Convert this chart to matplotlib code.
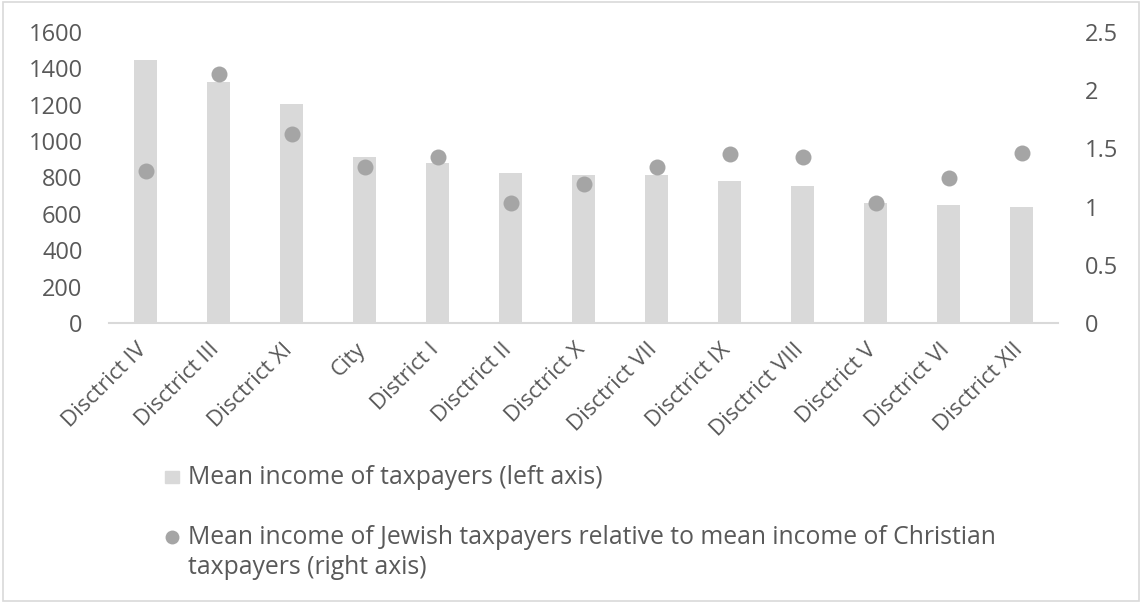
"""Mean taxpayer income by district with Jewish/Christian income ratio."""
import matplotlib
matplotlib.use("Agg")
import matplotlib.pyplot as plt
from matplotlib.lines import Line2D
from matplotlib.patches import Rectangle
from matplotlib.transforms import ScaledTranslation

districts = [
    "Disctrict IV", "Disctrict III", "Disctrict XI", "City", "District I",
    "Disctrict II", "Disctrict X", "Disctrict VII", "Disctrict IX",
    "Disctrict VIII", "Disctrict V", "Disctrict VI", "Disctrict XII",
]
mean_income = [1448, 1325, 1206, 914, 878, 826, 812, 812, 782, 753, 658, 650, 636]
jewish_ratio = [1.31, 2.14, 1.62, 1.34, 1.43, 1.03, 1.19, 1.34, 1.45, 1.43, 1.03, 1.25, 1.46]

left_ticks = [0, 200, 400, 600, 800, 1000, 1200, 1400, 1600]
right_ticks = [0, 0.5, 1, 1.5, 2, 2.5]
right_labels = ["0", "0.5", "1", "1.5", "2", "2.5"]

BAR = "#d9d9d9"
DOT = "#a5a5a5"
TXT = "#595959"
FS = 17
XFS = 16
LEG_FS = 17.8

plt.rcParams["font.family"] = "Open Sans"

W, H = 1142, 603
fig = plt.figure(figsize=(W / 100, H / 100), dpi=100)
fig.patches.append(Rectangle((0.003, 0.004), 0.994, 0.992, transform=fig.transFigure,
                             fill=False, edgecolor="#d9d9d9", linewidth=1.2))

ax = fig.add_axes([109 / W, 1 - 323 / H, 949 / W, 291 / H])
x = range(len(districts))
ax.bar(x, mean_income, width=0.31, color=BAR, zorder=2)
ax.set_xlim(-0.5, len(districts) - 0.5)
ax.set_ylim(0, 1600)
ax.set_yticks(left_ticks)
ax.set_yticklabels([str(t) for t in left_ticks])

ax2 = ax.twinx()
ax2.plot(x, jewish_ratio, linestyle="none", marker="o", markersize=11.5,
         color=DOT, markeredgewidth=0, zorder=3)
ax2.set_ylim(0, 2.5)
ax2.set_yticks(right_ticks)
ax2.set_yticklabels(right_labels)

for a in (ax, ax2):
    for s in a.spines.values():
        s.set_visible(False)
    a.tick_params(length=0, colors=TXT, labelsize=FS)
ax.spines["bottom"].set_visible(True)
ax.spines["bottom"].set_color(BAR)
ax.spines["bottom"].set_linewidth(1.5)
ax.tick_params(axis="y", pad=19)
ax2.tick_params(axis="y", pad=19)

ax.set_xticks(list(x))
ax.set_xticklabels(districts, rotation=45, ha="right", va="center",
                   rotation_mode="anchor", fontsize=XFS)
ax.tick_params(axis="x", pad=17)
nudge = ScaledTranslation(-2 / 100, 0, fig.dpi_scale_trans)
for lbl in ax.get_xticklabels():
    lbl.set_transform(lbl.get_transform() + nudge)

# legend drawn by hand so the wrapped second entry keeps its marker on the first line
fig.patches.append(Rectangle((165 / W, 1 - 483 / H), 14 / W, 12 / H,
                             transform=fig.transFigure, color=BAR))
fig.add_artist(Line2D([172 / W], [1 - 537 / H], transform=fig.transFigure,
                      marker="o", markersize=10, color=DOT, markeredgewidth=0))
fig.text(188 / W, 1 - 477 / H, "Mean income of taxpayers (left axis)",
         color=TXT, fontsize=LEG_FS, va="center")
fig.text(188 / W, 1 - 537 / H,
         "Mean income of Jewish taxpayers relative to mean income of Christian",
         color=TXT, fontsize=LEG_FS, va="center")
fig.text(188 / W, 1 - 567 / H, "taxpayers (right axis)",
         color=TXT, fontsize=LEG_FS, va="center")

fig.savefig("out.png", dpi=100)
